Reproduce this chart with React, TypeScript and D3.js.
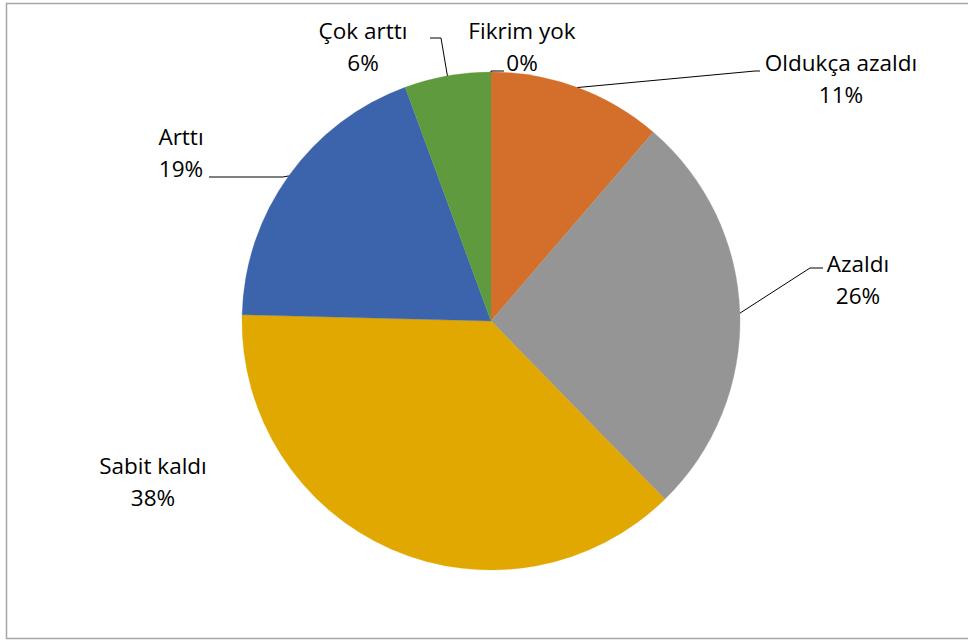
import React from "react";
import * as d3 from "d3";

const categories = ["Fikrim yok", "Oldukça azaldı", "Azaldı", "Sabit kaldı", "Arttı", "Çok arttı"];
const values = [0, 11.3, 26.4, 37.7, 19.0, 5.6];
const colors = ["#D46F2B", "#D46F2B", "#959595", "#E0A800", "#3C64AC", "#5F9B3E"];

// label layout: centre x, first baseline y, and leader-line path (elbow points) per slice
const labelPos: { x: number; y: number; leader: [number, number][] | null }[] = [
  { x: 522, y: 39, leader: [[491, 71], [504, 71]] },
  { x: 841, y: 71, leader: [[755, 71], [760, 71]] },
  { x: 858, y: 272, leader: [[810, 268], [823, 268]] },
  { x: 153, y: 474, leader: null },
  { x: 181, y: 145, leader: [[283, 177], [209, 177]] },
  { x: 363, y: 39, leader: [[441, 38], [430, 38]] },
];

const W = 968;
const H = 640;
const cx = 491;
const cy = 321;
const R = 249;

export default function App() {
  const pie = d3.pie<number>().sort(null).value((d) => d);
  const arcs = pie(values);
  const arc = d3.arc<d3.PieArcDatum<number>>().innerRadius(0).outerRadius(R);
  const total = d3.sum(values);
  const font = "'Open Sans', 'Noto Sans', sans-serif";
  return (
    <svg width={W} height={H} style={{ position: "absolute", left: 0, top: 0, background: "#fff" }}>
      <rect x={6.5} y={3.5} width={980} height={635} fill="#fff" stroke="#a6a6a6" strokeWidth={1.5} />
      <g transform={`translate(${cx},${cy})`}>
        {arcs.map((a, i) => (
          <path key={i} d={arc(a) || ""} fill={colors[i]} stroke={colors[i]} strokeWidth={0.3} />
        ))}
      </g>
      {arcs.map((a, i) => {
        const lp = labelPos[i];
        if (!lp.leader) return null;
        const mid = (a.startAngle + a.endAngle) / 2;
        const px = cx + R * Math.sin(mid);
        const py = cy - R * Math.cos(mid);
        const pts: [number, number][] = [[px, py], ...lp.leader];
        return (
          <path key={"l" + i} d={d3.line()(pts) || ""} fill="none" stroke="#000" strokeWidth={1} />
        );
      })}
      {arcs.map((a, i) => {
        const lp = labelPos[i];
        const pct = Math.round((values[i] / total) * 100);
        return (
          <text key={"t" + i} x={lp.x} y={lp.y} textAnchor="middle" fontFamily={font} fontSize={22.5} fill="#000">
            <tspan x={lp.x}>{categories[i]}</tspan>
            <tspan x={lp.x} dy={31.5}>{pct}%</tspan>
          </text>
        );
      })}
    </svg>
  );
}
